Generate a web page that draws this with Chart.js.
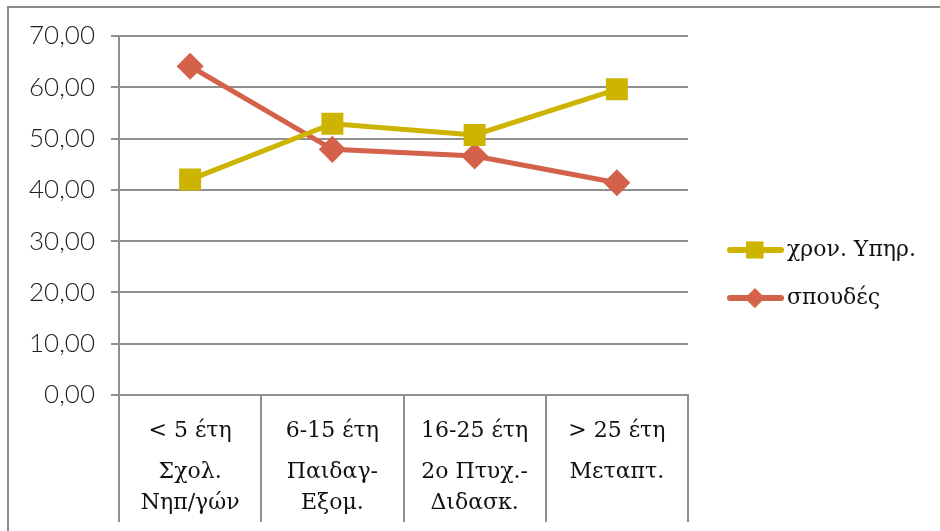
<!DOCTYPE html>
<html><head><meta charset="utf-8">
<script src="https://cdn.jsdelivr.net/npm/chart.js@4.4.0/dist/chart.umd.min.js"></script>
<style>html,body{margin:0;padding:0;background:#fff;overflow:hidden}#wrap{position:relative;width:940px;height:531px}</style>
</head><body><div id="wrap"><canvas id="c" width="940" height="531"></canvas></div>
<script>
const categoriesTop = ["< 5 έτη", "6-15 έτη", "16-25 έτη", "> 25 έτη"];
const categoriesBottom = [["Σχολ.", "Νηπ/γών"], ["Παιδαγ-", "Εξομ."], ["2ο Πτυχ.-", "Διδασκ."], ["Μεταπτ."]];
const seriesNames = ["χρον. Υπηρ.", "σπουδές"];
const yearsValues = [42.0, 52.9, 50.7, 59.6];
const studiesValues = [64.1, 47.9, 46.6, 41.4];
const yTicks = [0, 10, 20, 30, 40, 50, 60, 70];

const YELLOW = '#CCB400';
const ORANGE = '#D4614A';
const GRID = '#8f8f8f';
const SERIF = '"DejaVu Serif", "Liberation Serif", serif';

const frame = {
  id: 'frame',
  beforeDraw(chart) {
    const ctx = chart.ctx;
    ctx.save();
    ctx.strokeStyle = '#8c8c8c';
    ctx.lineWidth = 2;
    ctx.beginPath();
    ctx.moveTo(8, 540); ctx.lineTo(8, 7); ctx.lineTo(950, 7);
    ctx.stroke();
    ctx.restore();
  }
};

const catLabels = {
  id: 'catLabels',
  afterDraw(chart) {
    const ctx = chart.ctx, xs = chart.scales.x;
    ctx.save();
    ctx.fillStyle = '#111';
    ctx.font = '22px ' + SERIF;
    ctx.textAlign = 'center';
    ctx.textBaseline = 'middle';
    categoriesTop.forEach((t, i) => {
      const x = xs.getPixelForValue(i);
      ctx.fillText(t, x, 431);
      categoriesBottom[i].forEach((s, j) => ctx.fillText(s, x, 472 + j * 31));
    });
    ctx.restore();
  }
};

const legendPlug = {
  id: 'legendPlug',
  afterDraw(chart) {
    const ctx = chart.ctx;
    const ys = [250, 298];
    chart.data.datasets.forEach((ds, i) => {
      const y = ys[i];
      ctx.save();
      ctx.strokeStyle = ds.borderColor;
      ctx.lineWidth = 6;
      ctx.lineCap = 'round';
      ctx.beginPath(); ctx.moveTo(730, y); ctx.lineTo(781, y); ctx.stroke();
      ctx.fillStyle = ds.pointBackgroundColor;
      ctx.strokeStyle = ds.pointBorderColor;
      ctx.lineWidth = 1;
      Chart.helpers.drawPoint(ctx, {pointStyle: ds.pointStyle, radius: ds.pointRadius * 0.95, rotation: 0, borderWidth: 1}, 755, y);
      ctx.fillStyle = '#111';
      ctx.font = '22px ' + SERIF;
      ctx.textAlign = 'left';
      ctx.textBaseline = 'middle';
      ctx.fillText(ds.label, 787, y);
      ctx.restore();
    });
  }
};

new Chart(document.getElementById('c'), {
  type: 'line',
  data: {
    labels: categoriesTop,
    datasets: [
      {label: seriesNames[0], data: yearsValues, borderColor: YELLOW, backgroundColor: YELLOW,
       pointBackgroundColor: YELLOW, pointBorderColor: YELLOW, pointStyle: 'rect', pointRadius: 12,
       borderWidth: 5, tension: 0},
      {label: seriesNames[1], data: studiesValues, borderColor: ORANGE, backgroundColor: ORANGE,
       pointBackgroundColor: ORANGE, pointBorderColor: ORANGE, pointStyle: 'rectRot', pointRadius: 10,
       borderWidth: 5, tension: 0}
    ]
  },
  options: {
    responsive: false,
    animation: false,
    devicePixelRatio: 1,
    layout: {padding: {left: 0, right: 252, top: 36, bottom: 9}},
    plugins: {legend: {display: false}, tooltip: {enabled: false}},
    scales: {
      x: {
        offset: true,
        grid: {offset: true, drawOnChartArea: false, drawTicks: true, tickLength: 127, color: GRID, lineWidth: 2},
        border: {display: true, color: GRID, width: 2},
        ticks: {display: false}
      },
      y: {
        min: 0, max: 70,
        afterBuildTicks: (s) => { s.ticks = yTicks.map(v => ({value: v})); },
        afterFit: (s) => { s.width = 119; },
        grid: {color: GRID, lineWidth: 2, tickLength: 8},
        border: {display: true, color: GRID, width: 2},
        ticks: {
          padding: 16,
          color: '#222',
          font: {family: 'Lato', size: 26, weight: '300'},
          callback: (v) => Number(v).toFixed(2).replace('.', ',')
        }
      }
    }
  },
  plugins: [frame, catLabels, legendPlug]
});
</script></body></html>
